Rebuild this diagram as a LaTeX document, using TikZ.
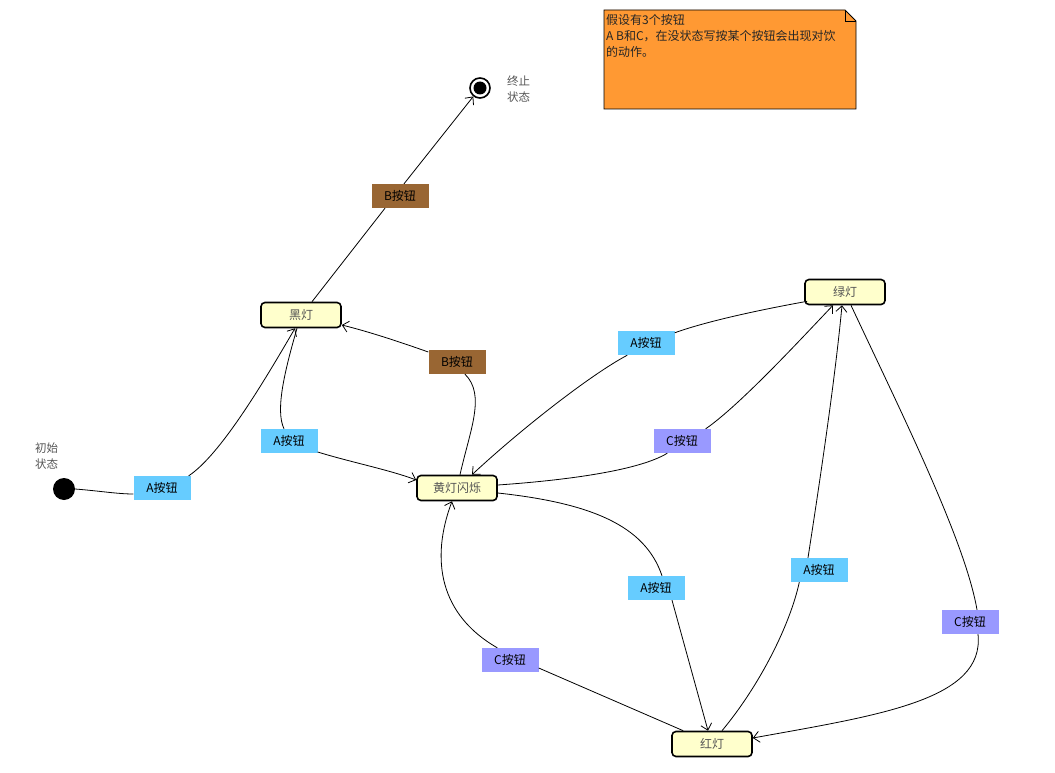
\documentclass[tikz,border=0pt]{standalone}
\usepackage{fontspec}
\setmainfont{Noto Sans CJK SC}
\usetikzlibrary{arrows.meta,calc}
\definecolor{statefill}{HTML}{FFFFCC}
\definecolor{abtn}{HTML}{66CCFF}
\definecolor{bbtn}{HTML}{996633}
\definecolor{cbtn}{HTML}{9999FF}
\definecolor{notefill}{HTML}{FF9933}
\definecolor{softtext}{HTML}{555555}
\tikzset{
  state/.style={draw=black, line width=1.6pt, fill=statefill, rounded corners=4pt,
    minimum width=80pt, minimum height=25pt, inner sep=0pt,
    font=\fontsize{12}{14}\selectfont, text=softtext},
  btn/.style={minimum width=57pt, minimum height=24pt, inner sep=0pt,
    font=\fontsize{12}{14}\selectfont, text=black},
  abutton/.style={btn, fill=abtn},
  bbutton/.style={btn, fill=bbtn},
  cbutton/.style={btn, fill=cbtn},
  edge/.style={draw=black, line width=0.8pt},
  arr/.style={edge, -{Straight Barb[length=6pt,width=11pt,line width=0.8pt]}},
  caption/.style={align=left, inner sep=0pt, anchor=north west,
    font=\fontsize{11.5}{16}\selectfont, text=softtext}
}
\begin{document}
\begin{tikzpicture}[x=1pt,y=-1pt]
\useasboundingbox (0,0) rectangle (1055,773);

% note
\draw[fill=notefill, line width=0.8pt] (604,10) -- (845,10) -- (856,21) -- (856,109) -- (604,109) -- cycle;
\draw[line width=0.8pt] (845,10) -- (845,21) -- (856,21);
\node[align=left, inner sep=0pt, anchor=north west, font=\fontsize{12}{16}\selectfont, text=black!85] (note) at (606,14)
  {假设有3个按钮\\A B和C，在没状态写按某个按钮会出现对饮\\的动作。};

% pseudo states
\node[circle, fill=black, minimum size=22pt, inner sep=0pt] (init) at (64,489) {};
\node[caption] (initlbl) at (35,443) {初始\\状态};
\node[circle, draw=black, line width=1.6pt, fill=white, minimum size=20pt, inner sep=0pt] (fin) at (480,88) {};
\node[circle, fill=black, minimum size=13pt, inner sep=0pt] (fincore) at (480,88) {};
\node[caption] (finlbl) at (507,76) {终止\\状态};

% states
\node[state] (hei) at (301,315) {黑灯};
\node[state] (huang) at (457,488) {黄灯闪烁};
\node[state] (lv) at (845,292) {绿灯};
\node[state] (hong) at (712,744) {红灯};

% labels
\node[abutton] (a1) at (162,488) {A按钮};
\node[bbutton] (b1) at (400,196) {B按钮};
\node[bbutton] (b2) at (457,362) {B按钮};
\node[abutton] (a2) at (289,441) {A按钮};
\node[abutton] (a3) at (646,343) {A按钮};
\node[cbutton] (c1) at (682,441) {C按钮};
\node[abutton] (a4) at (656,588) {A按钮};
\node[abutton] (a5) at (819,570) {A按钮};
\node[cbutton] (c3) at (970,622) {C按钮};
\node[cbutton] (c2) at (510,660) {C按钮};

% 1: init -> hei via a1
\draw[edge] (init.east) .. controls (100,491) and (118,494) .. ([yshift=-6pt]a1.west);
\draw[arr] ([xshift=-2pt]a1.north east) .. controls (220,455) and (262,385) .. ([xshift=-6pt]hei.south);
% 2: hei -> fin via b1
\draw[edge] ([xshift=11pt]hei.north) -- ([xshift=-15pt]b1.south);
\draw[arr] ([xshift=4pt]b1.north) -- (fin);
% 3: huang -> hei via b2
\draw[edge] ([xshift=3pt]huang.north) .. controls (470,430) and (486,395) .. ([xshift=8pt]b2.south);
\draw[arr] ([yshift=10pt]b2.west) .. controls (400,342) and (370,332) .. ([yshift=-10pt]hei.east);
% 4: hei -> huang via a2
\draw[edge] ([xshift=-4pt]hei.south) .. controls (285,370) and (275,410) .. ([xshift=-5pt]a2.north);
\draw[arr] ([yshift=-11pt]a2.east) .. controls (350,462) and (390,470) .. ([yshift=8pt]huang.west);
% 5: lv -> huang via a3
\draw[edge] ([xshift=3pt,yshift=4pt]lv.south west) .. controls (770,308) and (710,320) .. ([yshift=-2pt]a3.north east);
\draw[arr] ([xshift=10pt]a3.south west) .. controls (590,375) and (520,430) .. ([xshift=15pt]huang.north);
% 6: huang -> lv via c1
\draw[edge] ([yshift=3pt]huang.east) .. controls (570,480) and (640,470) .. ([xshift=14pt]c1.south west);
\draw[arr] ([xshift=-5pt]c1.north east) .. controls (740,405) and (800,340) .. ([xshift=-12pt]lv.south);
% 7: huang -> hong via a4
\draw[edge] ([yshift=-5pt]huang.east) .. controls (590,503) and (645,525) .. ([xshift=6pt]a4.north);
\draw[arr] ([xshift=16pt]a4.south) -- ([xshift=-4pt]hong.north);
% 8: hong -> huang via c2
\draw[edge] ([xshift=12pt]hong.north west) -- ([yshift=-8pt]c2.east);
\draw[arr] ([xshift=16pt]c2.north west) .. controls (440,615) and (430,560) .. ([xshift=-5pt]huang.south);
% 9: hong -> lv via a5
\draw[edge] ([xshift=10pt]hong.north) .. controls (760,685) and (790,625) .. ([xshift=9pt]a5.south west);
\draw[arr] ([xshift=-11pt]a5.north) .. controls (820,480) and (835,380) .. ([xshift=-3pt]lv.south);
% 10: lv -> hong via c3
\draw[edge] ([xshift=6pt]lv.south) .. controls (900,410) and (965,540) .. ([xshift=7pt]c3.north);
\draw[arr] ([xshift=8pt]c3.south) .. controls (985,700) and (880,715) .. ([yshift=6pt]hong.east);
\end{tikzpicture}
\end{document}
